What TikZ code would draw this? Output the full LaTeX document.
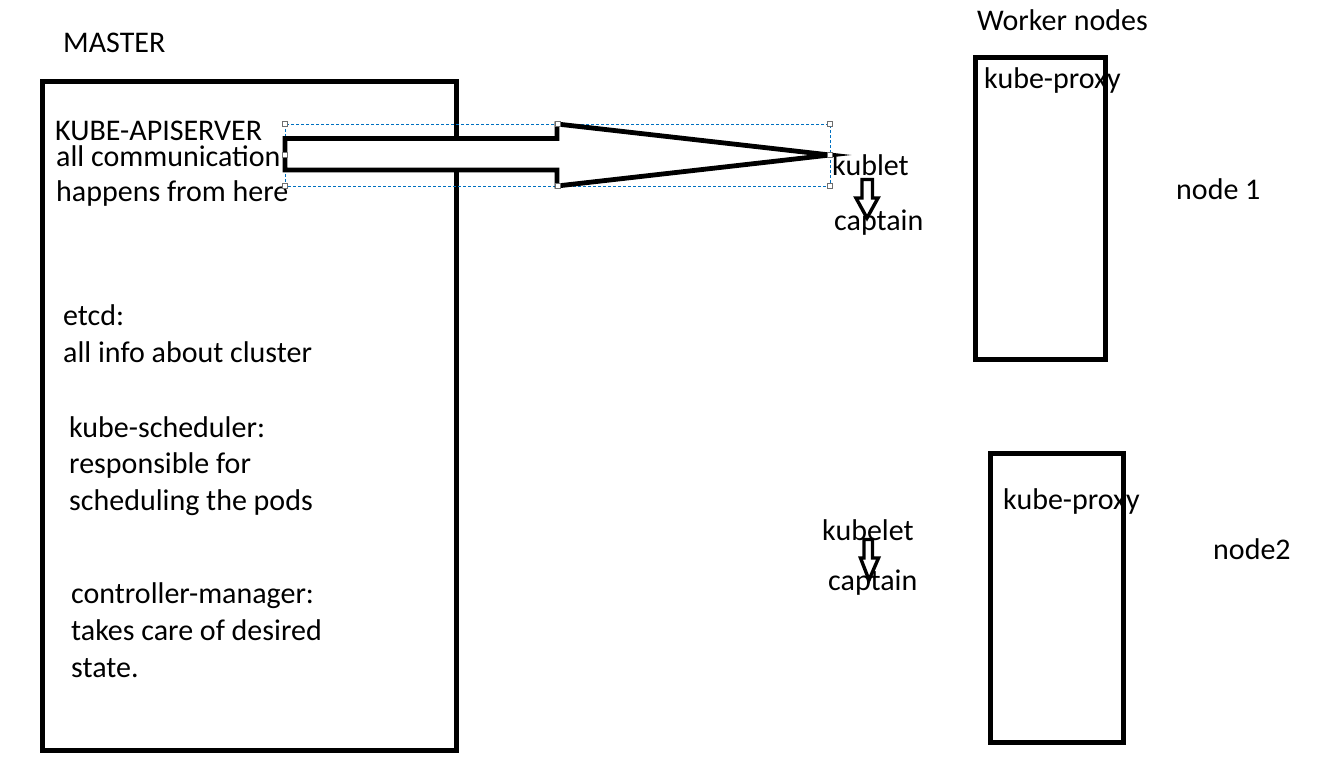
\documentclass[tikz,border=0pt]{standalone}
\usepackage{fontspec}
\setmainfont{Carlito}
\definecolor{selblue}{RGB}{0,112,192}
\definecolor{handlegray}{RGB}{110,110,110}
\begin{document}
\begin{tikzpicture}[x=1pt,y=-1pt,
  lbl/.style={anchor=base west,inner sep=0pt,font=\fontsize{30}{36}\selectfont},
  frame/.style={draw=black,line width=5pt},
  blockarrow/.style={draw=black,line width=4.8pt,fill=white,line join=miter},
  smallarrow/.style={draw=black,line width=3.4pt,fill=white,line join=miter},
  selbox/.style={draw=selblue,line width=0.8pt,dash pattern=on 3pt off 2pt},
  handle/.style={draw=handlegray,fill=white,line width=0.8pt,minimum size=5pt,inner sep=0pt}]
\useasboundingbox (0,0) rectangle (1335,767);
% boxes
\draw[frame] (42.5,82) rectangle (456,750);
\draw[frame] (975.5,57.5) rectangle (1105,359);
\draw[frame] (990,453) rectangle (1123,742);
% labels master
\node[lbl] (master) at (63,53) {MASTER};
\node[lbl] (api) at (55,141) {KUBE-APISERVER};
\node[lbl] (comm1) at (56,167) {all communication};
\node[lbl] (comm2) at (56,202) {happens from here};
\node[lbl] (etcd1) at (63,325) {etcd:};
\node[lbl] (etcd2) at (63,362) {all info about cluster};
\node[lbl] (sch1) at (69,437) {kube-scheduler:};
\node[lbl] (sch2) at (69,473) {responsible for};
\node[lbl] (sch3) at (69,510) {scheduling the pods};
\node[lbl] (cm1) at (71,603) {controller-manager:};
\node[lbl] (cm2) at (71,640) {takes care of desired};
\node[lbl] (cm3) at (71,677) {state.};
% worker labels
\node[lbl] (worker) at (977,31) {Worker nodes};
\node[lbl] (proxy1) at (984,89) {kube-proxy};
\node[lbl] (node1) at (1176,200) {node 1};
\node[lbl] (proxy2) at (1003,509) {kube-proxy};
\node[lbl] (node2) at (1213,559) {node2};
\node[lbl] (kublet) at (832,176) {kublet};
\node[lbl] (cap1) at (834,231) {captain};
\node[lbl] (kubelet) at (822,540) {kubelet};
\node[lbl] (cap2) at (828,590) {captain};
% selection box of big arrow
\coordinate (sa) at (285,124);
\coordinate (sb) at (830,186);
\draw[selbox] (sa) rectangle (sb);
% big block arrow
\draw[blockarrow] (285,138.5) -- (557,138.5) -- (557,124) -- (830,155) -- (557,186) -- (557,170) -- (285,170) -- cycle;
% handles
\foreach \p in {(285,124),(557.5,124),(830,124),(285,155),(830,155),(285,186),(557.5,186),(830,186)}
  \node[handle] at \p {};
% small arrows
\draw[smallarrow] (862,179.5) -- (872.5,179.5) -- (872.5,198) -- (878,198) -- (867,218) -- (856,198) -- (862,198) -- cycle;
\draw[smallarrow] (864,539.5) -- (872.5,539.5) -- (872.5,558) -- (878.5,558) -- (869,580) -- (860.5,558) -- (864,558) -- cycle;
\end{tikzpicture}
\end{document}
